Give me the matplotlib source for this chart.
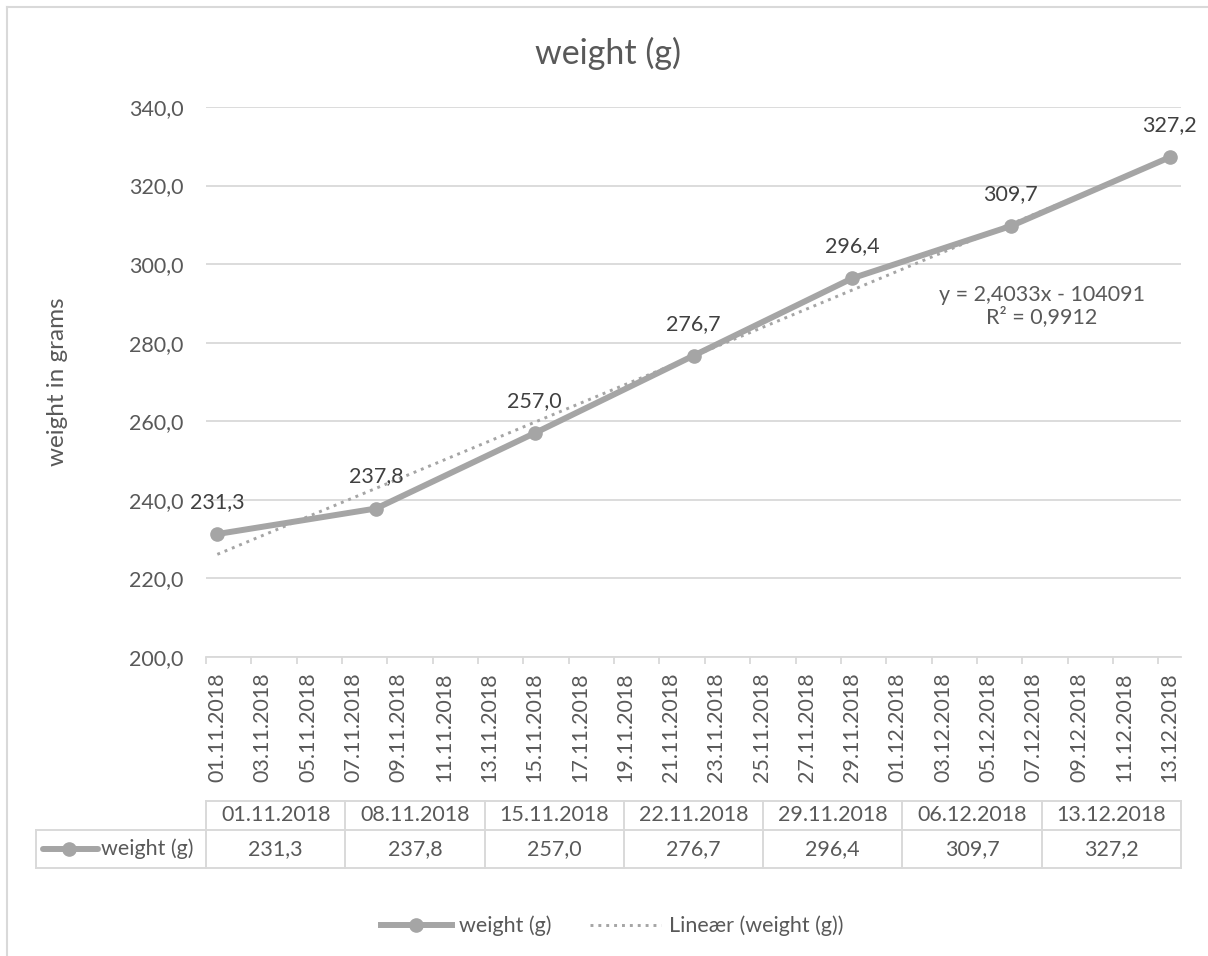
import matplotlib
matplotlib.use("Agg")
import matplotlib.pyplot as plt
import matplotlib.dates as mdates
from matplotlib.lines import Line2D
from matplotlib.ticker import FixedLocator, FuncFormatter, MultipleLocator
import numpy as np
import pandas as pd


dates = pd.to_datetime(["2018-11-01", "2018-11-08", "2018-11-15", "2018-11-22",
                        "2018-11-29", "2018-12-06", "2018-12-13"])
weights = [231.3, 237.8, 257.0, 276.7, 296.4, 309.7, 327.2]
series_name = "weight (g)"
trend_name = "Lineær (weight (g))"
trend_text = "y = 2,4033x - 104091\nR² = 0,9912"
y_label = "weight in grams"

W, H = 1208, 956
TEXT = "#595959"
DARK = "#404040"
GRID = "#D9D9D9"
LINE = "#A5A5A5"
plt.rcParams["font.family"] = ["Lato", "DejaVu Sans"]


def fx(px):
    return px / W


def fy(py):
    return 1 - py / H


def comma(v):
    return f"{v:.1f}".replace(".", ",")


fig = plt.figure(figsize=(W / 100, H / 100), dpi=100)
ax = fig.add_axes([fx(206), fy(657), fx(1181) - fx(206), fy(107) - fy(657)])

x = mdates.date2num(dates)
ax.plot(x, weights, color=LINE, lw=4.3, marker="o", ms=9.5, zorder=3,
        solid_capstyle="round")
coef = np.polyfit(x - x[0], weights, 1)
ax.plot(x, np.polyval(coef, x - x[0]), color=LINE, lw=2.1,
        ls=(0, (1, 1.7)), zorder=2)

for xi, w in zip(x, weights):
    ax.annotate(comma(w), (xi, w), xytext=(0, 23), textcoords="offset points",
                ha="center", va="center", fontsize=15.5, color=DARK)

ax.text(fx(1042), fy(306), trend_text, transform=fig.transFigure,
        ha="center", va="center", fontsize=15.5, color=TEXT, linespacing=1.1)

# axes styling
ax.set_ylim(200, 340)
ax.yaxis.set_major_locator(MultipleLocator(20))
ax.yaxis.set_major_formatter(FuncFormatter(lambda v, p: comma(v)))
ax.tick_params(axis="y", length=0, pad=16, labelsize=15.5, labelcolor=TEXT)

label_days = pd.date_range(dates[0], dates[-1], freq="2D")
ax.set_xlim(x[0] - 0.5, x[-1] + 0.5)
ax.xaxis.set_major_locator(FixedLocator(mdates.date2num(label_days)))
ax.xaxis.set_major_formatter(mdates.DateFormatter("%d.%m.%Y"))
ax.xaxis.set_minor_locator(FixedLocator(mdates.date2num(label_days) - 0.5))
ax.tick_params(axis="x", which="major", length=0, pad=11, labelsize=15.5,
               labelcolor=TEXT, labelrotation=90)
ax.tick_params(axis="x", which="minor", length=5, width=1.3, color=GRID)

ax.grid(axis="y", color=GRID, lw=1.3)
ax.set_axisbelow(True)
for side in ["left", "right", "top"]:
    ax.spines[side].set_visible(False)
ax.spines["bottom"].set_color(GRID)
ax.spines["bottom"].set_linewidth(1.3)

fig.text(fx(608), fy(53), series_name, ha="center", va="center",
         fontsize=24.5, color=TEXT)
fig.text(fx(57), fy(382), y_label, rotation=90, ha="center", va="center",
         fontsize=17.5, color=TEXT)

# chart border
fig.add_artist(Line2D([fx(7), fx(7)], [0, fy(7)], color=GRID, lw=1.5))
fig.add_artist(Line2D([fx(7), 1], [fy(7), fy(7)], color=GRID, lw=1.5))

# data table
col_left, col_right = 206, 1181
col_w = (col_right - col_left) / len(dates)
top, mid, bot = 801, 830, 868
tl = dict(color=GRID, lw=1.4)
fig.add_artist(Line2D([fx(col_left), fx(col_right)], [fy(top), fy(top)], **tl))
fig.add_artist(Line2D([fx(36), fx(col_right)], [fy(mid), fy(mid)], **tl))
fig.add_artist(Line2D([fx(36), fx(col_right)], [fy(bot), fy(bot)], **tl))
fig.add_artist(Line2D([fx(36), fx(36)], [fy(mid), fy(bot)], **tl))
for i in range(len(dates) + 1):
    cx = col_left + i * col_w
    fig.add_artist(Line2D([fx(cx), fx(cx)], [fy(top), fy(bot)], **tl))
for i, (d, w) in enumerate(zip(dates, weights)):
    cx = col_left + (i + 0.5) * col_w
    fig.text(fx(cx), fy(815), d.strftime("%d.%m.%Y"), ha="center",
             va="center", fontsize=15.5, color=TEXT)
    fig.text(fx(cx), fy(849), comma(w), ha="center", va="center",
             fontsize=15.5, color=TEXT)
fig.add_artist(Line2D([fx(43), fx(98)], [fy(849), fy(849)], color=LINE,
                      lw=4.3, solid_capstyle="round"))
fig.add_artist(Line2D([fx(69)], [fy(849)], color=LINE, marker="o", ms=9.5))
fig.text(fx(101), fy(849), series_name, ha="left", va="center",
         fontsize=15.5, color=TEXT)

# legend
handles = [
    Line2D([], [], color=LINE, lw=4.3, marker="o", ms=9.5),
    Line2D([], [], color=LINE, lw=2.1, ls=(0, (1, 1.7))),
]
fig.legend(handles, [series_name, trend_name], loc="center",
           bbox_to_anchor=(fx(612), fy(926)), ncol=2, frameon=False,
           fontsize=15.5, labelcolor=TEXT, handlelength=3.3,
           handletextpad=0.35, columnspacing=1.8)

fig.savefig("out.png", dpi=100)
